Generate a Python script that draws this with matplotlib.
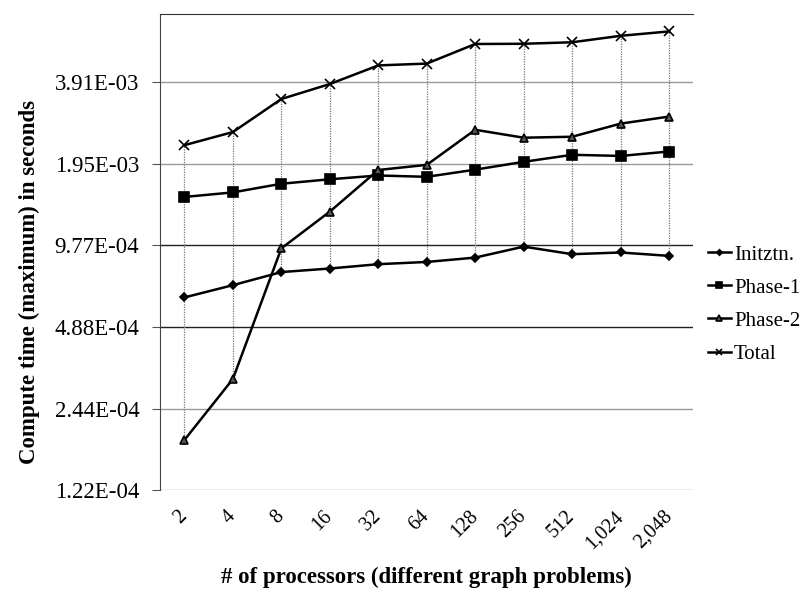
import numpy as np
import matplotlib
matplotlib.use("Agg")
import matplotlib.pyplot as plt

plt.rcParams["font.family"] = ["Liberation Serif", "DejaVu Serif"]

# ---- data ----
procs = ["2", "4", "8", "16", "32", "64", "128", "256", "512", "1,024", "2,048"]
initztn = [6.28e-4, 6.97e-4, 7.79e-4, 8.03e-4, 8.33e-4, 8.49e-4, 8.81e-4, 9.67e-4, 9.07e-4, 9.20e-4, 8.94e-4]
phase1 = [1.475e-3, 1.533e-3, 1.65e-3, 1.714e-3, 1.77e-3, 1.75e-3, 1.86e-3, 1.988e-3, 2.11e-3, 2.09e-3, 2.17e-3]
phase2 = [1.87e-4, 3.14e-4, 9.53e-4, 1.302e-3, 1.855e-3, 1.937e-3, 2.61e-3, 2.44e-3, 2.46e-3, 2.75e-3, 2.92e-3]
total = [2.29e-3, 2.56e-3, 3.39e-3, 3.85e-3, 4.51e-3, 4.58e-3, 5.41e-3, 5.42e-3, 5.49e-3, 5.80e-3, 6.02e-3]
yticks = [2.0**-13, 2.0**-12, 2.0**-11, 2.0**-10, 2.0**-9, 2.0**-8]
ytick_labels = ["1.22E-04", "2.44E-04", "4.88E-04", "9.77E-04", "1.95E-03", "3.91E-03"]

x = np.arange(len(procs))

fig = plt.figure(figsize=(8.09, 6.0), dpi=100)
ax = fig.add_axes([0.198, 0.183, 0.659, 0.794])

ax.set_yscale("log", base=2)
ax.set_ylim(2.0**-13, 2.0**-7.16)
ax.set_xlim(-0.5, len(procs) - 0.5)

# gridlines
grid_cols = ["#9a9a9a", "#9a9a9a", "#222222", "#222222", "#9a9a9a", "#9a9a9a"]
for yv, c in zip(yticks, grid_cols):
    ax.axhline(yv, color=c, lw=1.0, zorder=1)

# drop lines
all_s = np.array([initztn, phase1, phase2, total])
ax.vlines(x, all_s.min(axis=0), all_s.max(axis=0), colors="#777777",
          linestyles=(0, (1, 1)), lw=0.9, zorder=2)

series = [("Initztn.", initztn, "D", 4),
          ("Phase-1", phase1, "s", 6.5),
          ("Phase-2", phase2, "^", 6),
          ("Total", total, "x", 7)]
for name, vals, m, ms in series:
    ax.plot(x, vals, color="black", lw=1.8, marker=m, ms=ms,
            mfc="black" if m != "^" else "#555555", mec="black",
            mew=1.2, label=name, zorder=3)

ax.set_yticks(yticks)
ax.set_yticklabels(ytick_labels, fontsize=16.5)
ax.yaxis.set_minor_locator(matplotlib.ticker.NullLocator())
ax.set_xticks(x)
ax.set_xticklabels(procs, fontsize=14.5, rotation=45, ha="right", va="center",
                   rotation_mode="anchor")
ax.tick_params(axis="x", length=0, pad=17)
ax.tick_params(axis="y", length=6, color="#555555", pad=9)

for s in ["right", "bottom"]:
    ax.spines[s].set_visible(False)
ax.spines["left"].set_color("#444444")
ax.spines["top"].set_color("#333333")

ax.set_ylabel("Compute time (maximum) in seconds", fontsize=16.5, fontweight="bold")
ax.yaxis.set_label_coords(-0.225, 0.437)
ax.set_xlabel("# of processors (different graph problems)", fontsize=16.5, fontweight="bold")
ax.xaxis.set_label_coords(0.5, -0.16)

ax.legend(loc="center left", bbox_to_anchor=(1.0, 0.39), frameon=False,
          fontsize=15, handlelength=1.1, handletextpad=0.15, labelspacing=0.65,
          borderaxespad=0.3, markerscale=0.7)

plt.savefig("out.png", dpi=100)
